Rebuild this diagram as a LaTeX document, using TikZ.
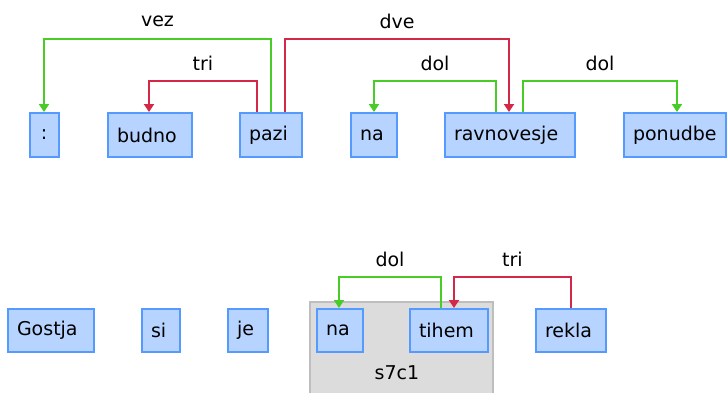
\documentclass[tikz,border=0pt]{standalone}
\usepackage{fontspec}
\setmainfont{DejaVu Sans}
\usetikzlibrary{arrows.meta}
\definecolor{tokfill}{RGB}{182,212,255}
\definecolor{tokline}{RGB}{85,155,255}
\definecolor{depgreen}{RGB}{72,204,40}
\definecolor{depred}{RGB}{212,40,72}
\definecolor{grpfill}{RGB}{220,220,220}
\definecolor{grpline}{RGB}{190,190,190}

\begin{document}
\begin{tikzpicture}[x=1pt, y=1pt,
		tok/.style={draw=tokline, fill=tokfill, line width=2pt, minimum height=#1, inner xsep=9pt, inner ysep=0pt, align=left, font=\fontsize{19}{21}\selectfont},
		lbl/.style={font=\fontsize{19}{21}\selectfont},
		green dep/.style={draw=depgreen, line width=2pt, -{Triangle[width=10pt,length=8pt]}},
		red dep/.style={draw=depred, line width=2pt, -{Triangle[width=10pt,length=8pt]}}]
			%%%%% START %%%%%
			
			\useasboundingbox (0, 0) rectangle (727, 392);
			
			\draw[fill=grpfill, draw=grpline, line width=2pt] (310, -4) rectangle (493, 90);
			\node[lbl] (grp) at (397, 19) {s7c1};
			
			\node[tok=44pt, text width=11pt, align=center] (colon) at (44, 257) {:};
			\node[tok=44pt, text width=66pt] (budno) at (150, 257) {budno};
			\node[tok=44pt, text width=44pt] (pazi) at (271, 257) {pazi};
			\node[tok=44pt, text width=28pt] (na) at (374, 257) {na};
			\node[tok=44pt, text width=112pt] (ravnovesje) at (510, 257) {ravnovesje};
			\node[tok=44pt, text width=84pt] (ponudbe) at (675, 257) {ponudbe};
			
			\node[tok=43pt, text width=68pt] (gostja) at (51, 61.5) {Gostja};
			\node[tok=43pt, text width=20pt] (si) at (161, 61.5) {si};
			\node[tok=43pt, text width=22pt] (je) at (248, 61.5) {je};
			\node[tok=43pt, text width=28pt] (naB) at (340, 61.5) {na};
			\node[tok=43pt, text width=60pt] (tihem) at (449, 61.5) {tihem};
			\node[tok=43pt, text width=52pt] (rekla) at (571, 61.5) {rekla};
			
			\draw[green dep] (pazi.north) -- ++(0, 73) -| node[lbl, pos=0.25, yshift=18pt] {vez} (colon.north);
			\draw[red dep] ([xshift=-14pt]pazi.north) -- ++(0, 31) -| node[lbl, pos=0.25, yshift=18pt] {tri} ([xshift=-1pt]budno.north);
			\draw[red dep] ([xshift=14pt]pazi.north) -- ++(0, 73) -| node[lbl, pos=0.25, yshift=18pt] {dve} ([xshift=-1pt]ravnovesje.north);
			\draw[green dep] ([xshift=-14pt]ravnovesje.north) -- ++(0, 31) -| node[lbl, pos=0.25, yshift=18pt] {dol} (na.north);
			\draw[green dep] ([xshift=13pt]ravnovesje.north) -- ++(0, 31) -| node[lbl, pos=0.25, yshift=18pt] {dol} ([xshift=2pt]ponudbe.north);
			
			\draw[green dep] ([xshift=-8pt]tihem.north) -- ++(0, 31) -| node[lbl, pos=0.25, yshift=18pt] {dol} ([xshift=-1pt]naB.north);
			\draw[red dep] (rekla.north) -- ++(0, 31) -| node[lbl, pos=0.25, yshift=18pt] {tri} ([xshift=5pt]tihem.north);
			
			%%%%% END %%%%%
\end{tikzpicture}
\end{document}
